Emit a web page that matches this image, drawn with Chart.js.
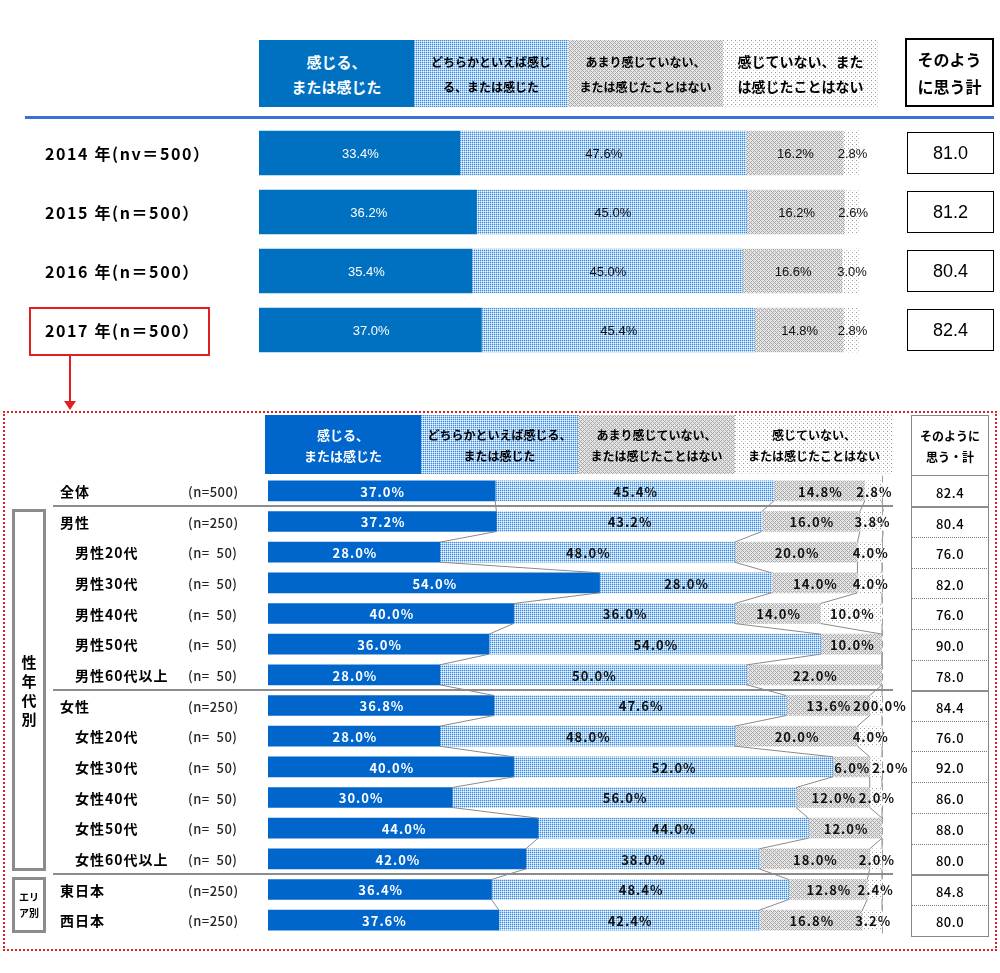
<!DOCTYPE html>
<html lang="ja">
<head>
<meta charset="utf-8">
<script src="https://cdn.jsdelivr.net/npm/chart.js@4.4.1/dist/chart.umd.min.js"></script>
<style>
body{margin:0;background:#fff;}
#wrap{position:relative;width:1000px;height:973px;overflow:hidden;font-family:"Noto Sans CJK JP","Noto Sans",sans-serif;color:#000;}
canvas{position:absolute;left:0;top:0;}
.hd{position:absolute;display:flex;flex-direction:column;align-items:center;justify-content:center;text-align:center;font-weight:bold;box-sizing:border-box;white-space:nowrap;}
.txt{position:absolute;white-space:pre;transform:translateY(-50%);}
.box{position:absolute;box-sizing:border-box;}
</style>
</head>
<body>
<div id="wrap">
  <canvas id="topChart" width="1000" height="973"></canvas>
  <canvas id="bottomChart" width="1000" height="973"></canvas>

  <!-- top header -->
  <div class="hd" style="left:259px;top:40px;width:155px;height:67px;background:#0070C0;color:#fff;font-size:15px;line-height:25px">感じる、<br>または感じた</div>
  <div class="hd pat2" style="left:414px;top:40px;width:154px;height:67px;font-size:12px;line-height:25px">どちらかといえば感じ<br>る、または感じた</div>
  <div class="hd pat3" style="left:568px;top:40px;width:155px;height:67px;font-size:12px;line-height:25px">あまり感じていない、<br>または感じたことはない</div>
  <div class="hd pat4" style="left:723px;top:40px;width:155px;height:67px;font-size:14px;line-height:25px">感じていない、また<br>は感じたことはない</div>
  <div class="hd" style="left:905px;top:38px;width:89px;height:69px;border:2px solid #000;font-size:16px;line-height:27px">そのよう<br>に思う計</div>
  <div class="box" style="left:25px;top:116px;width:969px;height:3px;background:#3D6FDB"></div>

  <!-- red marker -->
  <div class="box" style="left:29px;top:307px;width:181px;height:49px;border:2px solid #E02020"></div>
  <div class="box" style="left:69px;top:356px;width:2px;height:46px;background:#E02020"></div>
  <div class="box" style="left:64px;top:401px;width:0;height:0;border-left:6px solid transparent;border-right:6px solid transparent;border-top:9px solid #E02020"></div>
  <div class="box" style="left:3px;top:411px;width:994px;height:540px;border:2px dotted #E02020"></div>

  <!-- bottom header -->
  <div class="hd" style="left:265px;top:415px;width:156px;height:59px;background:#0066CC;color:#fff;font-size:13px;line-height:21px">感じる、<br>または感じた</div>
  <div class="hd pat2" style="left:421px;top:415px;width:157px;height:59px;font-size:12px;line-height:21px">どちらかといえば感じる、<br>または感じた</div>
  <div class="hd pat3" style="left:578px;top:415px;width:157px;height:59px;font-size:12px;line-height:21px">あまり感じていない、<br>または感じたことはない</div>
  <div class="hd pat4" style="left:735px;top:415px;width:158px;height:59px;font-size:12px;line-height:21px">感じていない、<br>または感じたことはない</div>
  <div class="hd" style="left:911px;top:415px;width:78px;height:61px;border:1.5px solid #888;font-size:12px;line-height:21px">そのように<br>思う・計</div>
</div>

<script>
// ---- 経年 (top) ----
var topYears = ['2014 年(nv＝500）', '2015 年(n＝500）', '2016 年(n＝500）', '2017 年(n＝500）'];
var topFeel = [33.4, 36.2, 35.4, 37.0];
var topRather = [47.6, 45.0, 45.0, 45.4];
var topNotMuch = [16.2, 16.2, 16.6, 14.8];
var topNotAtAll = [2.8, 2.6, 3.0, 2.8];
var topTotal = [81.0, 81.2, 80.4, 82.4];

// ---- 2017 属性別 (bottom) ----
var rowNames = ['全体', '男性', '男性20代', '男性30代', '男性40代', '男性50代', '男性60代以上',
                '女性', '女性20代', '女性30代', '女性40代', '女性50代', '女性60代以上', '東日本', '西日本'];
var rowN = ['(n=500)', '(n=250)', '(n=  50)', '(n=  50)', '(n=  50)', '(n=  50)', '(n=  50)',
            '(n=250)', '(n=  50)', '(n=  50)', '(n=  50)', '(n=  50)', '(n=  50)', '(n=250)', '(n=250)'];
var feel = [37.0, 37.2, 28.0, 54.0, 40.0, 36.0, 28.0, 36.8, 28.0, 40.0, 30.0, 44.0, 42.0, 36.4, 37.6];
var rather = [45.4, 43.2, 48.0, 28.0, 36.0, 54.0, 50.0, 47.6, 48.0, 52.0, 56.0, 44.0, 38.0, 48.4, 42.4];
var notMuch = [14.8, 16.0, 20.0, 14.0, 14.0, 10.0, 22.0, 13.6, 20.0, 6.0, 12.0, 12.0, 18.0, 12.8, 16.8];
var notAtAll = [2.8, 3.8, 4.0, 4.0, 10.0, 0, 0, 2.0, 4.0, 2.0, 2.0, 0, 2.0, 2.4, 3.2];
var notAtAllText = {7: '200.0%'};   // as printed in the source
var totals = [82.4, 80.4, 76.0, 82.0, 76.0, 90.0, 78.0, 84.4, 76.0, 92.0, 86.0, 88.0, 80.0, 84.8, 80.0];
var groupStarts = [1, 7, 13];   // rows that begin a new block (男性, 女性, エリア)

// pattern tiles
function makeTile(size, bg, dots) {
    var c = document.createElement('canvas');
    c.width = c.height = size;
    var g = c.getContext('2d');
    g.fillStyle = bg;
    g.fillRect(0, 0, size, size);
    dots.forEach(function (d) { g.fillStyle = d[2]; g.fillRect(d[0], d[1], 1, 1); });
    return c;
}
var tileRather = makeTile(2, '#AACFF2', [[0,0,'#3F8EDD'],[1,1,'#F2F8FE']]);
var tileNotMuch = makeTile(4, '#E6E6E6', [[0,0,'#A8A8A8'],[1,1,'#A8A8A8'],[2,2,'#A8A8A8'],[3,3,'#A8A8A8'],[1,3,'#A8A8A8'],[3,1,'#A8A8A8']]);
var tileNotAtAll = makeTile(4, '#FFFFFF', [[0,0,'#9A9A9A'],[2,2,'#C8C8C8']]);

document.querySelectorAll('.pat2').forEach(function (e) { e.style.backgroundImage = 'url(' + tileRather.toDataURL() + ')'; });
document.querySelectorAll('.pat3').forEach(function (e) { e.style.backgroundImage = 'url(' + tileNotMuch.toDataURL() + ')'; });
document.querySelectorAll('.pat4').forEach(function (e) { e.style.backgroundImage = 'url(' + tileNotAtAll.toDataURL() + ')'; });

// value labels in the middle of each segment (pushed right if they would collide)
var barLabels = {
    id: 'barLabels',
    afterDatasetsDraw: function (chart, args, opts) {
        var ctx = chart.ctx;
        var lastRight = {};
        ctx.save();
        ctx.font = opts.font;
        ctx.letterSpacing = opts.spacing || '0px';
        ctx.textAlign = 'center';
        ctx.textBaseline = 'middle';
        chart.data.datasets.forEach(function (ds, di) {
            chart.getDatasetMeta(di).data.forEach(function (bar, i) {
                var v = ds.data[i];
                if (!v) return;
                var text = (ds.labelText && ds.labelText[i]) || v.toFixed(1) + '%';
                var w = ctx.measureText(text).width;
                var cx = (bar.x + bar.base) / 2 + 1;
                if (lastRight[i] !== undefined && cx - w / 2 < lastRight[i] + 2) cx = lastRight[i] + 2 + w / 2;
                lastRight[i] = cx + w / 2;
                ctx.fillStyle = di === 0 ? '#fff' : '#111';
                ctx.fillText(text, cx, bar.y + 1);
            });
        });
        ctx.restore();
    }
};

// Excel-style series lines + block separators for the lower chart
var seriesLines = {
    id: 'seriesLines',
    afterDatasetsDraw: function (chart) {
        var ctx = chart.ctx;
        var metas = chart.data.datasets.map(function (d, i) { return chart.getDatasetMeta(i); });
        var area = chart.chartArea;
        var n = chart.data.labels.length;
        ctx.save();
        ctx.strokeStyle = '#8A8A8A';
        ctx.lineWidth = 1;
        for (var i = 0; i < n - 1; i++) {
            metas.forEach(function (m) {
                var a = m.data[i], b = m.data[i + 1];
                ctx.beginPath();
                ctx.moveTo(a.x, a.y + a.height / 2);
                ctx.lineTo(b.x, b.y - b.height / 2);
                ctx.stroke();
            });
        }
        // dashed 100% line
        var x100 = chart.scales.x.getPixelForValue(100);
        ctx.setLineDash([7, 4]);
        ctx.strokeStyle = '#A0A0A0';
        ctx.beginPath();
        ctx.moveTo(x100 + 0.5, area.top);
        ctx.lineTo(x100 + 0.5, area.bottom);
        ctx.stroke();
        ctx.setLineDash([]);
        // separators
        ctx.strokeStyle = '#8C8C8C';
        ctx.lineWidth = 2;
        var y = chart.scales.y;
        groupStarts.forEach(function (g) {
            var yy = Math.round((y.getPixelForValue(g - 1) + y.getPixelForValue(g)) / 2);
            ctx.beginPath();
            ctx.moveTo(53, yy);
            ctx.lineTo(893, yy);
            ctx.stroke();
        });
        ctx.restore();
    }
};

function makeDatasets(ctx, blue, a, b, c, d, dText) {
    return [
        {data: a, backgroundColor: blue},
        {data: b, backgroundColor: ctx.createPattern(tileRather, 'repeat')},
        {data: c, backgroundColor: ctx.createPattern(tileNotMuch, 'repeat')},
        {data: d, backgroundColor: ctx.createPattern(tileNotAtAll, 'repeat'), labelText: dText}
    ];
}

function baseOptions(pad, font, spacing) {
    return {
        indexAxis: 'y',
        responsive: false,
        animation: false,
        layout: {padding: pad},
        scales: {
            x: {stacked: true, min: 0, max: 100, display: false},
            y: {stacked: true, display: false}
        },
        plugins: {
            legend: {display: false},
            tooltip: {enabled: false},
            barLabels: {font: font, spacing: spacing}
        }
    };
}

var topCtx = document.getElementById('topChart').getContext('2d');
var topDs = makeDatasets(topCtx, '#0070C0', topFeel, topRather, topNotMuch, topNotAtAll, null);
topDs.forEach(function (d) { d.barThickness = 44; });
var topChart = new Chart(topCtx, {
    type: 'bar',
    data: {labels: topYears, datasets: topDs},
    options: baseOptions({left: 259, right: 140, top: 123.5, bottom: 613.5}, '13px "Liberation Sans", Arial', '0px'),
    plugins: [barLabels]
});

var botCtx = document.getElementById('bottomChart').getContext('2d');
var botDs = makeDatasets(botCtx, '#0066CC', feel, rather, notMuch, notAtAll, notAtAllText);
botDs.forEach(function (d) { d.barThickness = 20; });
var bottomChart = new Chart(botCtx, {
    type: 'bar',
    data: {labels: rowNames, datasets: botDs},
    options: baseOptions({left: 268, right: 118, top: 475.5, bottom: 37.5}, 'bold 13px "Noto Sans CJK JP"', '1px'),
    plugins: [barLabels, seriesLines]
});

// ---- HTML texts placed from the chart scales ----
var wrap = document.getElementById('wrap');
function addText(text, x, y, css) {
    var d = document.createElement('div');
    d.className = 'txt';
    d.textContent = text;
    d.style.left = x + 'px';
    d.style.top = y + 'px';
    d.style.cssText += css || '';
    wrap.appendChild(d);
    return d;
}
function addBox(x, y, w, h, css) {
    var d = document.createElement('div');
    d.className = 'box';
    d.style.cssText += 'left:' + x + 'px;top:' + y + 'px;width:' + w + 'px;height:' + h + 'px;' + (css || '');
    wrap.appendChild(d);
    return d;
}

var yT = topChart.scales.y;
topYears.forEach(function (name, i) {
    var cy = yT.getPixelForValue(i);
    addText(name, 45, cy, 'font-size:16px;font-weight:bold;letter-spacing:1.6px;');
    var b = addBox(907, Math.round(cy - 21), 87, 42, 'border:1.5px solid #000;display:flex;align-items:center;justify-content:center;font:18px "Liberation Sans",Arial;');
    b.textContent = topTotal[i].toFixed(1);
});

var yB = bottomChart.scales.y;
var pitch = yB.getPixelForValue(1) - yB.getPixelForValue(0);
rowNames.forEach(function (name, i) {
    var cy = yB.getPixelForValue(i);
    var indent = /\d/.test(name) ? 75 : 60;
    addText(name, indent, cy, 'font-size:14px;font-weight:bold;letter-spacing:1px;');
    addText(rowN[i], 188, cy, 'font-size:13px;font-weight:500;color:#222;letter-spacing:0.5px;');
    var top = cy - pitch / 2;
    var line = (i === 0) ? '' : (groupStarts.indexOf(i) >= 0 ? 'border-top:2px solid #8C8C8C;' : 'border-top:1px dotted #777;');
    var cell = addBox(911, Math.round(top), 78, Math.round(pitch) + 1,
        'border-left:1.5px solid #888;border-right:1.5px solid #888;' + line +
        (i === rowNames.length - 1 ? 'border-bottom:1.5px solid #888;' : '') +
        'display:flex;align-items:center;justify-content:center;font-size:13px;font-weight:500;letter-spacing:0.5px;');
    cell.textContent = totals[i].toFixed(1);
});

// block boxes on the left
function blockBox(first, last, html, fs) {
    var t = Math.round(yB.getPixelForValue(first) - pitch / 2) + 3;
    var bt = Math.round(yB.getPixelForValue(last) + pitch / 2) - 3;
    var b = addBox(12, t, 34, bt - t, 'border:3px solid #8C8C8C;display:flex;align-items:center;justify-content:center;text-align:center;font-weight:bold;font-size:' + fs + 'px;');
    b.innerHTML = html;
}
blockBox(1, 12, '<div style="line-height:19px">性<br>年<br>代<br>別</div>', 15);
blockBox(13, 14, '<div style="line-height:16px">エリ<br>ア別</div>', 10);
</script>
</body>
</html>
